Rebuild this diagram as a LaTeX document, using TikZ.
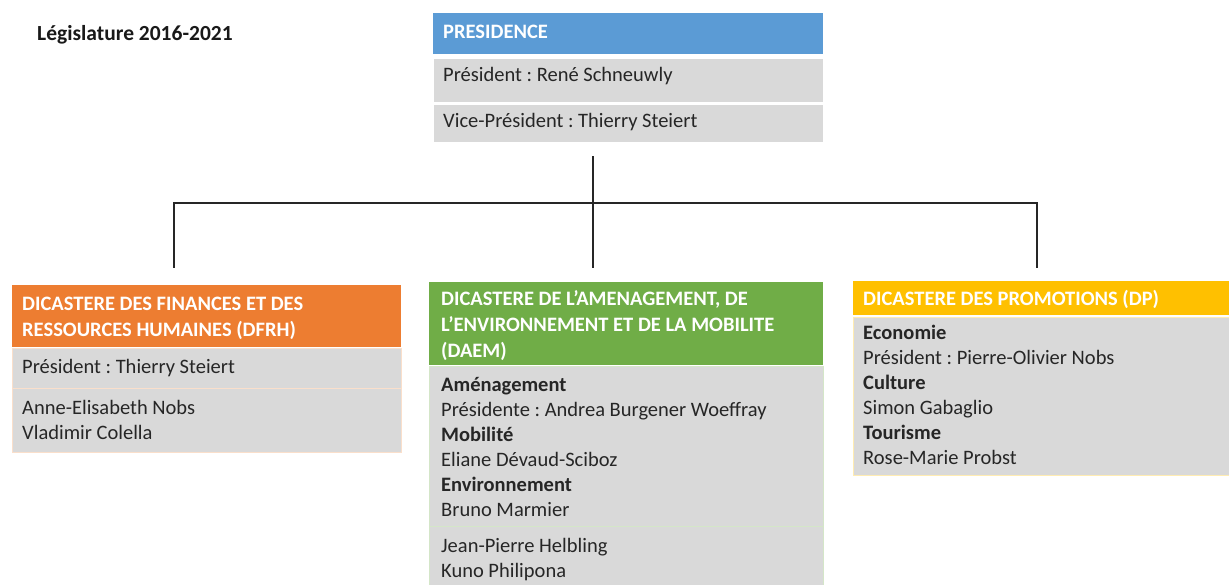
\documentclass[tikz,border=0pt]{standalone}
\usepackage{fontspec}
\setmainfont{Carlito}
\frenchspacing
\definecolor{cblue}{HTML}{5B9BD5}
\definecolor{corange}{HTML}{ED7D31}
\definecolor{cgreen}{HTML}{70AD47}
\definecolor{cgold}{HTML}{FFC000}
\definecolor{cgrey}{HTML}{D9D9D9}
\begin{document}
\begin{tikzpicture}[x=1pt,y=-1pt,
  cell/.style={rectangle, anchor=north west, inner sep=0pt, outer sep=0pt},
  hdr/.style={cell, fill=#1},
  row/.style={cell, fill=cgrey, draw=#1, line width=0.6pt},
  htxt/.style={anchor=base west, inner sep=0pt, align=left, text=white,
    font=\fontsize{20.5}{26}\selectfont\bfseries\frenchspacing},
  btxt/.style={anchor=base west, inner sep=0pt, align=left, text=black!85,
    font=\fontsize{20.5}{25}\selectfont\frenchspacing},
  link/.style={draw=black!85, line width=2pt}]
\useasboundingbox (0,0) rectangle (1229,584);
\fill[white] (0,0) rectangle (1229,584);

% title
\node[anchor=base west, inner sep=0pt, font=\fontsize{21.5}{26}\selectfont\bfseries, text=black!90] (title) at (37,40) {Législature 2016-2021};

% PRESIDENCE
\node[hdr=cblue, minimum width=390pt, minimum height=41pt] (presH) at (433,13) {};
\node[row=white, minimum width=390pt, minimum height=44pt] (presR1) at (433,58) {};
\node[row=white, minimum width=390pt, minimum height=38pt] (presR2) at (433,104) {};
\node[htxt] (presHt) at (443,38) {PRESIDENCE};
\node[btxt] (presR1t) at (443,81) {Président : René Schneuwly};
\node[btxt] (presR2t) at (443,127.5) {Vice-Président : Thierry Steiert};

% DFRH
\node[hdr=corange, minimum width=389pt, minimum height=62pt] (finH) at (12,285) {};
\node[row=corange!25, minimum width=389pt, minimum height=40pt] (finR1) at (12,348.5) {};
\node[row=corange!25, minimum width=389pt, minimum height=64pt] (finR2) at (12,388.5) {};
\node[htxt] (finHt) at (22,336) {DICASTERE DES FINANCES ET DES\\RESSOURCES HUMAINES (DFRH)};
\node[btxt] (finR1t) at (22,373) {Président : Thierry Steiert};
\node[btxt] (finR2t) at (22,439) {Anne-Elisabeth Nobs\\Vladimir Colella};

% DAEM
\node[hdr=cgreen, minimum width=394pt, minimum height=83pt] (amH) at (429,282) {};
\node[row=cgreen!30, minimum width=394pt, minimum height=160pt] (amR1) at (429,366) {};
\node[row=cgreen!30, minimum width=394pt, minimum height=62pt] (amR2) at (429,526) {};
\node[htxt] (amHt) at (441,357.5) {DICASTERE DE L’AMENAGEMENT, DE\\L’ENVIRONNEMENT ET DE LA MOBILITE\\(DAEM)};
\node[btxt] (amR1t) at (441,516.5) {\textbf{Aménagement}\\Présidente : Andrea Burgener Woeffray\\\textbf{Mobilité}\\Eliane Dévaud-Sciboz\\\textbf{Environnement}\\Bruno Marmier};
\node[btxt] (amR2t) at (441,577) {Jean-Pierre Helbling\\Kuno Philipona};

% DP
\node[hdr=cgold, minimum width=377pt, minimum height=34pt] (prH) at (853,281) {};
\node[row=cgold!30, minimum width=377pt, minimum height=158pt] (prR1) at (853,317) {};
\node[htxt] (prHt) at (863,305) {DICASTERE DES PROMOTIONS (DP)};
\node[btxt] (prR1t) at (863,464) {\textbf{Economie}\\Président : Pierre-Olivier Nobs\\\textbf{Culture}\\Simon Gabaglio\\\textbf{Tourisme}\\Rose-Marie Probst};

% connectors
\coordinate (top) at (593,156);
\coordinate (jc) at (593,203);
\coordinate (jl) at (174,203);
\coordinate (jr) at (1037,203);
\coordinate (el) at (174,268);
\coordinate (ec) at (593,268);
\coordinate (er) at (1037,268);
\draw[link] (top) -- (jc);
\draw[link, line cap=rect] (jl) -- (jr);
\draw[link] (jl) -- (el);
\draw[link] (jc) -- (ec);
\draw[link] (jr) -- (er);
\end{tikzpicture}
\end{document}
